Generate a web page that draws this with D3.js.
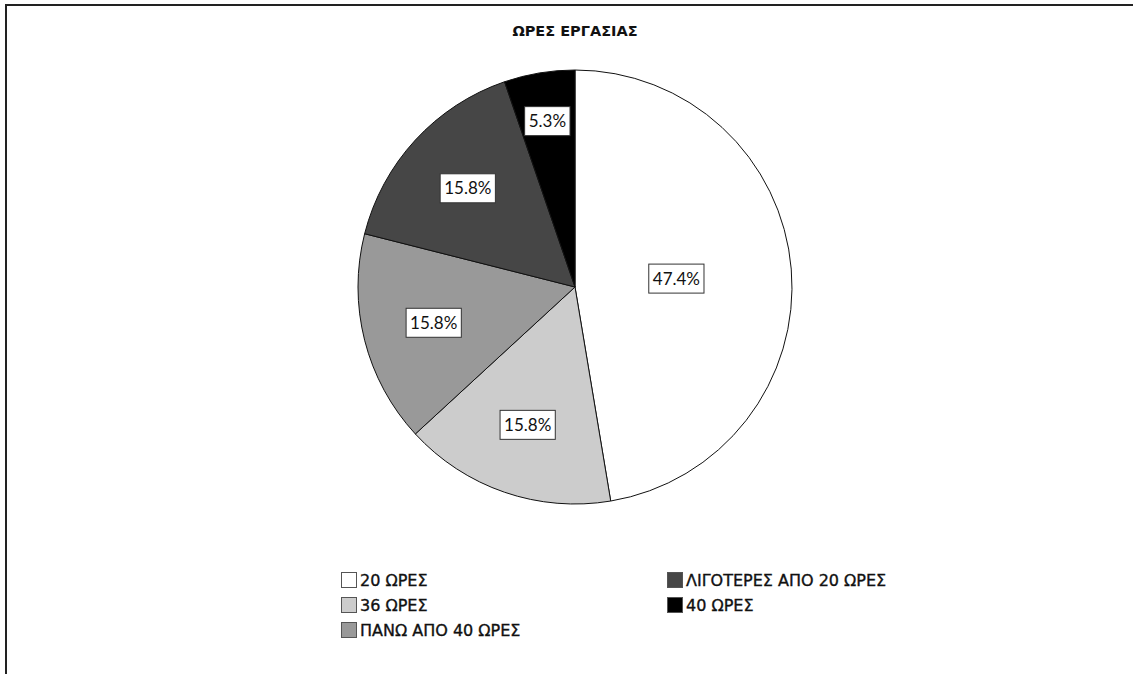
<!DOCTYPE html>
<html><head><meta charset="utf-8">
<script src="https://cdn.jsdelivr.net/npm/d3@7"></script>
<style>body{margin:0;background:#fff}svg{display:block}</style>
</head><body>
<script>
const title = "ΩΡΕΣ ΕΡΓΑΣΙΑΣ";
const categories = ["20 ΩΡΕΣ", "36 ΩΡΕΣ", "ΠΑΝΩ ΑΠΟ 40 ΩΡΕΣ", "ΛΙΓΟΤΕΡΕΣ ΑΠΟ 20 ΩΡΕΣ", "40 ΩΡΕΣ"];
const counts = [9, 3, 3, 3, 1];
const colors = ["#ffffff", "#cccccc", "#999999", "#464646", "#000000"];

const W = 1133, H = 674;
const svg = d3.select("body").append("svg").attr("width", W).attr("height", H);

// frame (top and left edges)
svg.append("path").attr("d", `M6,${H} L6,5 L${W},5`).attr("fill", "none")
  .attr("stroke", "#222").attr("stroke-width", 2);

svg.append("text").attr("x", 575).attr("y", 36).attr("text-anchor", "middle")
  .attr("font-family", "DejaVu Sans").attr("font-weight", "bold").attr("font-size", 14.5)
  .attr("fill", "#111").text(title);

const cx = 575, cy = 287, R = 217;
const total = d3.sum(counts);
const data = categories.map((c, i) => ({ cat: c, v: counts[i], color: colors[i] }));
const pie = d3.pie().value(d => d.v).sort(null);
const arcs = pie(data);
const arc = d3.arc().innerRadius(0).outerRadius(R);
const g = svg.append("g").attr("transform", `translate(${cx},${cy})`);
g.selectAll("path.slice").data(arcs).join("path").attr("class", "slice")
  .attr("d", arc).attr("fill", d => d.data.color).attr("stroke", "#111").attr("stroke-width", 1);

const fmt = d => (d.data.v / total * 100).toFixed(1) + "%";
const lab = g.selectAll("g.lab").data(arcs).join("g").attr("class", "lab");
lab.each(function (d) {
  const sel = d3.select(this);
  const t = sel.append("text").attr("font-family", "Lato").attr("font-size", 17)
    .attr("text-anchor", "middle").attr("dy", "0.36em").attr("fill", "#111").text(fmt(d));
  const bw = t.node().getComputedTextLength() + 8, bh = 29;
  const half = (d.endAngle - d.startAngle) / 2;
  const mid = (d.startAngle + d.endAngle) / 2;
  const centroidR = 2 * R * Math.sin(half) / (3 * half);
  const r = Math.max(centroidR * 1.05, (bw + 10) / (2 * Math.sin(half)));
  const x = r * Math.sin(mid), y = -r * Math.cos(mid);
  sel.attr("transform", `translate(${x},${y})`);
  sel.insert("rect", "text").attr("x", -bw / 2).attr("y", -bh / 2).attr("width", bw).attr("height", bh)
    .attr("fill", "#fff").attr("stroke", "#333").attr("stroke-width", 1);
});

// legend
const leg = svg.append("g");
const colX = [341, 667], rowY = [572, 597, 622];
data.forEach((d, i) => {
  const col = i < 3 ? 0 : 1, row = i < 3 ? i : i - 3;
  const gg = leg.append("g").attr("transform", `translate(${colX[col]},${rowY[row]})`);
  gg.append("rect").attr("x", 0.5).attr("y", 0.5).attr("width", 15).attr("height", 15)
    .attr("fill", d.color).attr("stroke", "#555").attr("stroke-width", 1);
  gg.append("text").attr("x", 19).attr("y", 14).attr("font-family", "DejaVu Sans")
    .attr("font-size", 16).attr("fill", "#111").attr("stroke", "#111").attr("stroke-width", 0.35)
    .text(d.cat);
});
</script>
</body></html>
